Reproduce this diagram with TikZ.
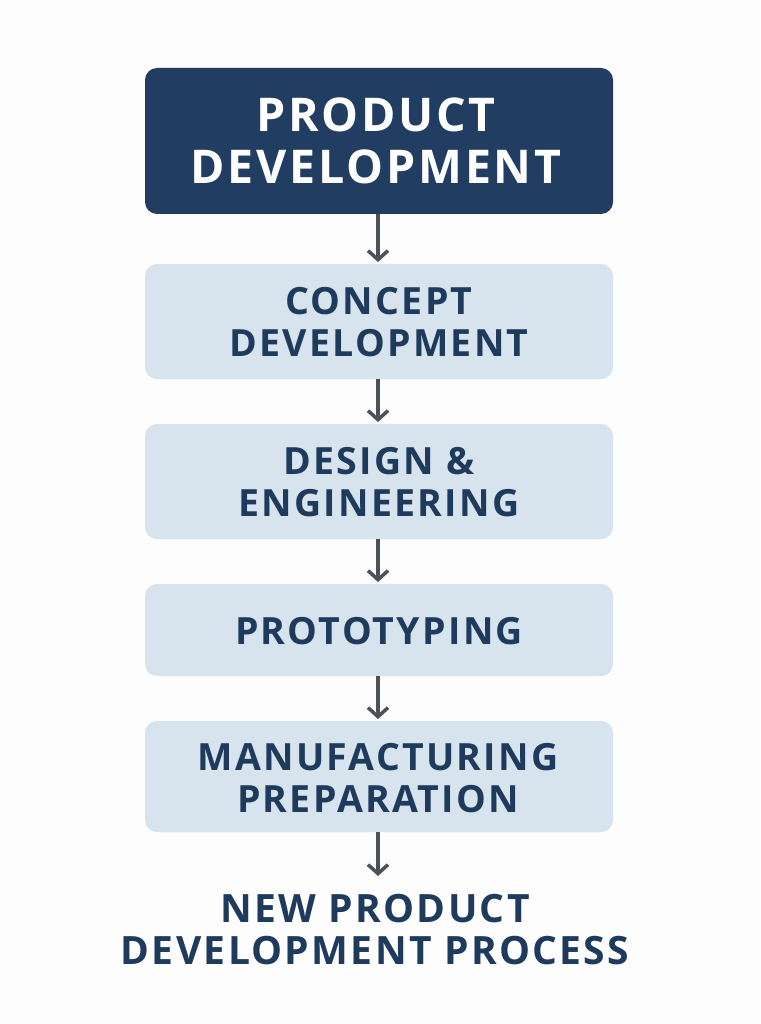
\documentclass[tikz,border=0pt]{standalone}
\usepackage{fontspec}
\setmainfont{Open Sans}[LetterSpace=6]
\usetikzlibrary{arrows.meta}
\definecolor{navy}{HTML}{213D62}
\definecolor{navytext}{HTML}{1E3A5C}
\definecolor{lightbox}{HTML}{D7E4EE}
\definecolor{arrowgray}{HTML}{4A5159}
\definecolor{bg}{HTML}{FDFDFE}
\begin{document}
\begin{tikzpicture}[x=1pt,y=-1pt,
  topbox/.style={fill=navy, rounded corners=12pt},
  stepbox/.style={fill=lightbox, rounded corners=12pt},
  toptext/.style={text=white, font=\bfseries\fontsize{46.5}{52}\selectfont, align=center},
  steptext/.style={text=navytext, font=\bfseries\fontsize{37.5}{42}\selectfont, align=center},
  fintext/.style={text=navytext, font=\bfseries\fontsize{39}{42}\selectfont, align=center},
  flow/.style={draw=arrowgray, line width=3.5pt, -{Straight Barb[length=9pt,width=20pt,line width=3.5pt]}}
]
\fill[bg] (0,0) rectangle (760,1024);
\useasboundingbox (0,0) rectangle (760,1024);
\path[topbox] (145,68) rectangle (613,214);
\node[toptext] (top) at (376,141) {PRODUCT\\DEVELOPMENT};

\path[stepbox] (145,264) rectangle (613,379);
\node[steptext] (s1) at (379,322) {CONCEPT\\DEVELOPMENT};
\path[stepbox] (145,424) rectangle (613,539);
\node[steptext] (s2) at (379,482) {DESIGN \&\\ENGINEERING};
\path[stepbox] (145,584) rectangle (613,676);
\node[steptext] (s3) at (379,631) {PROTOTYPING};
\path[stepbox] (145,721) rectangle (613,832);
\node[steptext] (s4) at (378,778) {MANUFACTURING\\PREPARATION};
\node[fintext] (fin) at (375,930) {NEW PRODUCT\\DEVELOPMENT PROCESS};

\coordinate (a1s) at (378,214); \coordinate (a1e) at (378,262);
\coordinate (a2s) at (378,379); \coordinate (a2e) at (378,422);
\coordinate (a3s) at (378,539); \coordinate (a3e) at (378,582);
\coordinate (a4s) at (378,676); \coordinate (a4e) at (378,719);
\coordinate (a5s) at (378,832); \coordinate (a5e) at (378,876);
\draw[flow] (a1s) -- (a1e);
\draw[flow] (a2s) -- (a2e);
\draw[flow] (a3s) -- (a3e);
\draw[flow] (a4s) -- (a4e);
\draw[flow] (a5s) -- (a5e);
\end{tikzpicture}
\end{document}
